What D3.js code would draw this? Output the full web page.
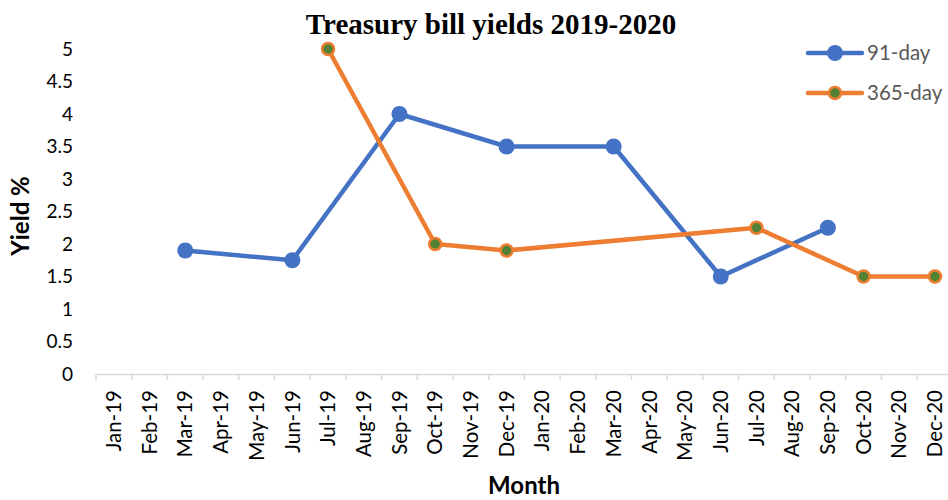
<!DOCTYPE html>
<html>
<head>
<meta charset="utf-8">
<script src="https://cdn.jsdelivr.net/npm/d3@7"></script>
<style>
  body { margin: 0; background: #fff; }
  svg { display: block; }
</style>
</head>
<body>
<svg id="chart" width="948" height="500"></svg>
<script>
// Months on the category axis
const months = ["Jan-19","Feb-19","Mar-19","Apr-19","May-19","Jun-19","Jul-19","Aug-19","Sep-19","Oct-19","Nov-19","Dec-19",
                "Jan-20","Feb-20","Mar-20","Apr-20","May-20","Jun-20","Jul-20","Aug-20","Sep-20","Oct-20","Nov-20","Dec-20"];
// Yields (%) — null where no auction value was recorded
const yield91  = [null,null,1.9,null,null,1.75,null,null,4.0,null,null,3.5,null,null,3.5,null,null,1.5,null,null,2.25,null,null,null];
const yield365 = [null,null,null,null,null,null,5.0,null,null,2.0,null,1.9,null,null,null,null,null,null,2.25,null,null,1.5,null,1.5];
const yTicks = [0,0.5,1,1.5,2,2.5,3,3.5,4,4.5,5];
const seriesNames = ["91-day","365-day"];

const svg = d3.select("#chart");
const font = "Lato, 'Open Sans', sans-serif";

const x = d3.scaleBand().domain(months).range([96, 96 + 35.7 * months.length]).padding(0);
const y = d3.scaleLinear().domain([0, 5]).range([374, 49]);

// Title
svg.append("text")
  .attr("x", 491).attr("y", 34)
  .attr("text-anchor", "middle")
  .attr("font-family", "'Liberation Serif', 'Times New Roman', serif")
  .attr("font-weight", "bold").attr("font-size", 29)
  .attr("fill", "#000")
  .text("Treasury bill yields 2019-2020");

// Y axis: labels only
const yAxis = svg.append("g").attr("transform", "translate(79,0)")
  .call(d3.axisLeft(y).tickValues(yTicks).tickSize(0).tickPadding(6).tickFormat(d3.format("")));
yAxis.select(".domain").remove();
yAxis.selectAll("text")
  .attr("font-family", font).attr("font-size", 19).attr("fill", "#000");

// X axis with rotated month labels
const xAxis = svg.append("g").attr("transform", "translate(0,374)")
  .call(d3.axisBottom(x).tickSizeOuter(0).tickSize(0));
xAxis.select(".domain").attr("stroke", "#d9d9d9").attr("stroke-width", 1.5);
// tick marks at category boundaries
xAxis.selectAll(".bound")
  .data(months)
  .enter().append("line")
  .attr("class", "bound")
  .attr("x1", d => x(d)).attr("x2", d => x(d))
  .attr("y1", 0).attr("y2", 6)
  .attr("stroke", "#d9d9d9").attr("stroke-width", 1.5);
xAxis.selectAll(".tick text")
  .attr("font-family", font).attr("font-size", 20.5).attr("fill", "#000")
  .attr("text-anchor", "end")
  .attr("transform", "rotate(-90)")
  .attr("x", -16).attr("y", 0).attr("dy", "0.35em");

// Axis titles
svg.append("text")
  .attr("x", 524).attr("y", 494)
  .attr("text-anchor", "middle")
  .attr("font-family", font).attr("font-weight", "bold").attr("font-size", 24)
  .text("Month");
svg.append("text")
  .attr("transform", "translate(29,216) rotate(-90)")
  .attr("text-anchor", "middle")
  .attr("font-family", font).attr("font-weight", "bold").attr("font-size", 24)
  .text("Yield %");

const cx = i => x(months[i]) + x.bandwidth() / 2;
const line = d3.line().x(d => cx(d.i)).y(d => y(d.v));

const pts = arr => arr.map((v, i) => ({ i, v })).filter(d => d.v !== null);

const series = [
  { name: seriesNames[0], data: pts(yield91), color: "#4472C4", fill: "#4472C4", r: 8, sw: 0 },
  { name: seriesNames[1], data: pts(yield365), color: "#ED7D31", fill: "#548235", r: 6, sw: 2.5 }
];

series.forEach(s => {
  svg.append("path")
    .datum(s.data)
    .attr("d", line)
    .attr("fill", "none")
    .attr("stroke", s.color)
    .attr("stroke-width", 4.5)
    .attr("stroke-linejoin", "round");
});
series.forEach(s => {
  svg.append("g").selectAll("circle")
    .data(s.data).enter().append("circle")
    .attr("cx", d => cx(d.i)).attr("cy", d => y(d.v))
    .attr("r", s.r)
    .attr("fill", s.fill)
    .attr("stroke", s.color).attr("stroke-width", s.sw);
});

// Legend
const legend = svg.append("g");
series.forEach((s, k) => {
  const ly = 53 + k * 40;
  legend.append("line")
    .attr("x1", 808).attr("x2", 862).attr("y1", ly).attr("y2", ly)
    .attr("stroke", s.color).attr("stroke-width", 4.5).attr("stroke-linecap", "round");
  legend.append("circle")
    .attr("cx", 835).attr("cy", ly).attr("r", s.r)
    .attr("fill", s.fill).attr("stroke", s.color).attr("stroke-width", s.sw);
  legend.append("text")
    .attr("x", 867).attr("y", ly).attr("dy", "0.35em")
    .attr("font-family", font).attr("font-size", 20.5).attr("fill", "#595959")
    .text(s.name);
});
</script>
</body>
</html>
